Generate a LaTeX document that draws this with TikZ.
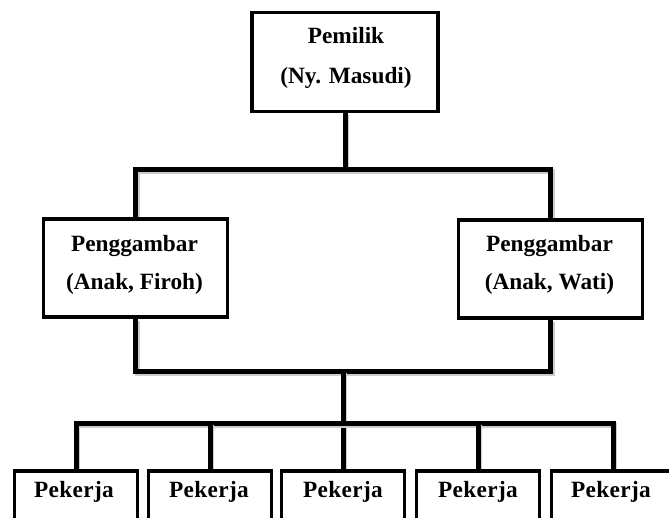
\documentclass[tikz,border=0pt]{standalone}
\usepackage{fontspec}
\setmainfont{Liberation Serif}
\begin{document}
\begin{tikzpicture}[x=1pt,y=-1pt,
  box/.style={draw=black,line width=3.5pt,fill=white,inner sep=0pt,minimum width=184pt,minimum height=98pt},
  wbox/.style={draw=black,line width=3.5pt,fill=white,inner sep=0pt,minimum width=123pt,minimum height=120pt,anchor=north},
  conn/.style={line width=5pt,black,line join=miter,
    preaction={draw,gray!40,line width=5pt,transform canvas={shift={(1.5pt,-2pt)}}}},
  txt/.style={anchor=base,inner sep=0pt,font=\fontsize{23.3}{27}\selectfont\bfseries},
  wtxt/.style={anchor=base,inner sep=0pt,font=\fontsize{23.3}{27}\selectfont\bfseries\addfontfeatures{LetterSpace=1.5}}]
\clip (0,0) rectangle (669,517);
\fill[white] (0,0) rectangle (669,517);
% bus levels
\coordinate (tbus) at (0,169);
\coordinate (mbus) at (0,371);
\coordinate (dbus) at (0,423);
% boxes (positions)
\path (345,62) node[box,minimum width=186pt,minimum height=99pt] (top) {};
\path (135.5,268) node[box] (left) {};
\path (550.5,269) node[box] (right) {};
\path (76,469) node[wbox] (p1) {};
\path (210,469) node[wbox] (p2) {};
\path (343,469) node[wbox] (p3) {};
\path (478,469) node[wbox] (p4) {};
\path (613,469) node[wbox] (p5) {};
% connectors
\draw[conn] (top.south) -- (top.south |- tbus);
\draw[conn] (left.north) -- (left.north |- tbus) -- (right.north |- tbus) -- (right.north);
\draw[conn] (left.south) -- (left.south |- mbus) -- (right.south |- mbus) -- (right.south);
\coordinate (hub) at (p3.north |- mbus);
\draw[conn] (hub) -- (p3.north);
\draw[conn] (p1.north) -- (p1.north |- dbus) -- (p5.north |- dbus) -- (p5.north);
\draw[conn] (p2.north) -- (p2.north |- dbus);
\draw[conn] (p4.north) -- (p4.north |- dbus);
% redraw boxes on top of connectors
\path (345,62) node[box,minimum width=186pt,minimum height=99pt] (topb) {};
\path (135.5,268) node[box] (leftb) {};
\path (550.5,269) node[box] (rightb) {};
\path (76,469) node[wbox] (p1b) {};
\path (210,469) node[wbox] (p2b) {};
\path (343,469) node[wbox] (p3b) {};
\path (478,469) node[wbox] (p4b) {};
\path (613,469) node[wbox] (p5b) {};
% texts
\node[txt] (t1) at (346,43) {Pemilik};
\node[txt] (t2) at (346,83) {(Ny. Masudi)};
\node[txt] (l1) at (134.5,251) {Penggambar};
\node[txt] (l2) at (134.5,289) {(Anak, Firoh)};
\node[txt] (r1) at (549.5,251) {Penggambar};
\node[txt] (r2) at (549.5,289) {(Anak, Wati)};
\node[wtxt] (w1) at (74,497) {Pekerja};
\node[wtxt] (w2) at (209,497) {Pekerja};
\node[wtxt] (w3) at (343,497) {Pekerja};
\node[wtxt] (w4) at (478,497) {Pekerja};
\node[wtxt] (w5) at (611,497) {Pekerja};
\end{tikzpicture}
\end{document}
